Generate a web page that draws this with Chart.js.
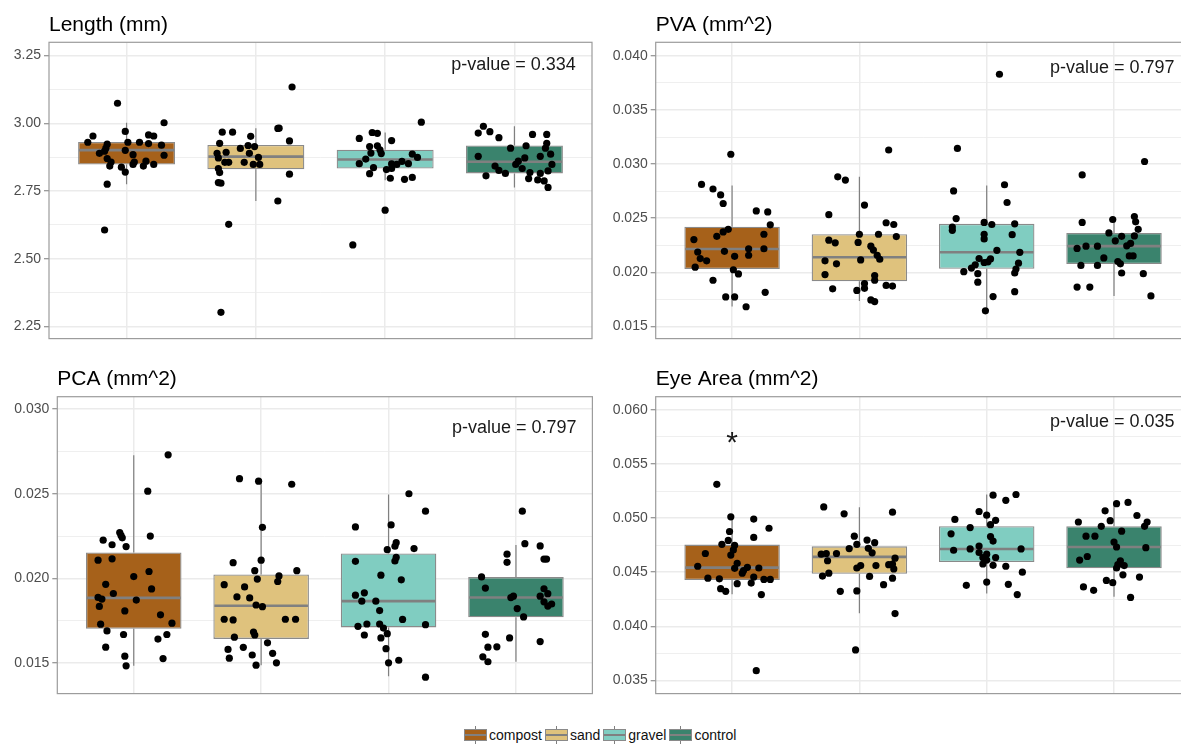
<!DOCTYPE html>
<html>
<head>
<meta charset="utf-8">
<script src="https://cdn.jsdelivr.net/npm/chart.js@4.4.1/dist/chart.umd.min.js"></script>
<style>
  body { margin: 0; background: #fff; }
  #wrap { position: relative; width: 1181px; height: 744px; overflow: hidden; background: #fff; }
  canvas { position: absolute; }
  #legend { position: absolute; left: 464px; top: 725px; height: 20px; display: flex; align-items: center;
            font: 14px 'Liberation Sans', Arial, sans-serif; color: #111; }
  .key { position: relative; width: 23px; height: 20px; margin-right: 2px; }
  .key::before { content: ''; position: absolute; left: 11px; top: 1px; bottom: 1px; width: 1px; background: #808080; }
  .key::after { content: ''; position: absolute; left: 0; right: 0; top: 4px; height: 12px; box-sizing: border-box;
                border: 1px solid #8a8a8a; background: linear-gradient(#808080, #808080) center / 100% 2px no-repeat, var(--c); }
  .lab { margin-right: 3px; }
</style>
</head>
<body>
<div id="wrap">
  <canvas id="c1" width="600" height="350" style="left:0;top:0"></canvas>
  <canvas id="c2" width="600" height="350" style="left:600px;top:0"></canvas>
  <canvas id="c3" width="600" height="345" style="left:0;top:360px"></canvas>
  <canvas id="c4" width="600" height="345" style="left:600px;top:360px"></canvas>
  <div id="legend"></div>
</div>
<script>
const categories = ['compost', 'sand', 'gravel', 'control'];
const colors = ['#A6611A', '#DFC27D', '#80CDC1', '#3A836D'];

// box stats per group: [lower whisker, q1, median, q3, upper whisker]
const lengthBox = [[2.775, 2.848, 2.901, 2.931, 3.002], [2.713, 2.830, 2.877, 2.920, 2.982],
                   [2.790, 2.833, 2.866, 2.902, 2.966], [2.763, 2.815, 2.858, 2.918, 2.989]];
const pvaBox = [[0.01685, 0.0203, 0.02215, 0.02421, 0.02803], [0.01736, 0.01918, 0.02139, 0.02352, 0.02882],
                [0.0165, 0.02033, 0.02185, 0.02448, 0.02803], [0.01782, 0.02076, 0.02242, 0.02364, 0.02494]];
const pcaBox = [[0.01484, 0.01703, 0.01885, 0.02153, 0.02728], [0.01488, 0.01643, 0.01839, 0.02023, 0.02574],
                [0.01422, 0.01711, 0.01866, 0.02147, 0.02496], [0.01508, 0.01771, 0.01887, 0.02008, 0.02197]];
const eyeBox = [[0.04297, 0.04427, 0.04542, 0.04755, 0.04991], [0.04121, 0.04485, 0.04642, 0.04739, 0.0510],
                [0.04303, 0.04594, 0.04715, 0.04924, 0.05218], [0.04273, 0.04536, 0.04733, 0.04924, 0.05145]];

// jittered observations: [jitter, value]
const lenCompost = [[-0.07,3.074],[0.29,3.002],[-0.01,2.970],[-0.26,2.953],[-0.30,2.930],[0.17,2.957],[0.21,2.953],[0.10,2.930],[0.01,2.930],[0.17,2.925],[0.27,2.919],[-0.15,2.923],[-0.16,2.908],[-0.21,2.889],[-0.17,2.897],[-0.01,2.900],[0.05,2.884],[0.29,2.882],[-0.15,2.870],[-0.12,2.857],[-0.13,2.842],[-0.04,2.838],[-0.01,2.820],[0.05,2.848],[0.06,2.857],[0.13,2.842],[0.15,2.860],[0.21,2.848],[-0.15,2.775],[-0.17,2.606]];
const lenSand = [[0.28,3.134],[-0.26,2.967],[-0.18,2.967],[-0.04,2.952],[0.18,2.982],[0.17,2.981],[0.26,2.935],[-0.28,2.926],[-0.12,2.907],[-0.06,2.918],[-0.01,2.914],[-0.30,2.889],[-0.23,2.893],[-0.05,2.889],[-0.29,2.872],[0.02,2.874],[-0.24,2.856],[-0.21,2.856],[-0.09,2.856],[-0.02,2.848],[0.03,2.848],[-0.29,2.833],[-0.28,2.818],[-0.29,2.781],[-0.27,2.779],[0.26,2.812],[0.17,2.713],[-0.21,2.627],[-0.27,2.302]];
const lenGravel = [[0.28,3.004],[-0.10,2.966],[-0.06,2.963],[-0.20,2.944],[0.05,2.936],[-0.12,2.914],[-0.06,2.917],[-0.04,2.902],[-0.11,2.890],[-0.03,2.888],[0.21,2.886],[0.25,2.874],[-0.15,2.868],[-0.20,2.851],[0.18,2.851],[0.13,2.859],[0.09,2.848],[0.05,2.850],[0.01,2.829],[0.05,2.833],[-0.09,2.836],[-0.12,2.814],[0.04,2.797],[0.15,2.793],[0.21,2.800],[0.00,2.679],[-0.25,2.551]];
const lenControl = [[-0.24,2.989],[-0.28,2.964],[-0.19,2.969],[-0.12,2.947],[0.14,2.959],[0.25,2.959],[0.25,2.926],[0.09,2.917],[-0.03,2.908],[0.24,2.908],[-0.28,2.878],[0.28,2.886],[0.20,2.878],[0.08,2.872],[0.03,2.860],[0.01,2.848],[0.29,2.848],[-0.15,2.842],[-0.12,2.826],[-0.07,2.815],[0.06,2.833],[0.12,2.818],[0.26,2.824],[-0.22,2.806],[0.20,2.815],[0.11,2.796],[0.18,2.791],[0.23,2.787],[0.26,2.763]];

const pvaCompost = [[-0.01,0.03091],[-0.24,0.02812],[-0.15,0.02770],[-0.09,0.02715],[-0.07,0.02636],[0.19,0.02567],[0.28,0.02558],[0.30,0.02439],[-0.03,0.02397],[-0.07,0.02373],[-0.12,0.02333],[0.25,0.02352],[-0.30,0.02303],[-0.27,0.02188],[-0.06,0.02194],[0.13,0.02218],[0.25,0.02218],[0.02,0.02148],[0.13,0.02158],[-0.25,0.02127],[-0.20,0.02106],[-0.29,0.02048],[0.01,0.02024],[0.05,0.01985],[-0.15,0.01927],[0.26,0.01815],[-0.05,0.01773],[0.02,0.01773],[0.11,0.01682]];
const pvaSand = [[0.23,0.03130],[-0.17,0.02882],[-0.11,0.02852],[-0.24,0.02533],[0.04,0.02621],[-0.24,0.02297],[-0.19,0.02273],[-0.01,0.02276],[0.00,0.02352],[0.15,0.02352],[0.21,0.02458],[0.09,0.02242],[0.11,0.02206],[0.14,0.02158],[0.16,0.02121],[-0.27,0.02106],[-0.18,0.02079],[0.01,0.02115],[-0.27,0.01979],[0.12,0.01970],[0.12,0.01927],[0.04,0.01897],[0.04,0.01852],[-0.02,0.01833],[-0.21,0.01848],[0.21,0.01879],[0.09,0.01745],[0.12,0.01730],[0.27,0.02442],[0.29,0.02330],[0.26,0.01873]];
const pvaGravel = [[0.10,0.03830],[-0.23,0.03145],[-0.26,0.02752],[0.14,0.02809],[0.16,0.02645],[-0.24,0.02497],[-0.27,0.02418],[-0.27,0.02388],[-0.02,0.02461],[0.04,0.02442],[0.22,0.02448],[-0.02,0.02352],[-0.02,0.02309],[0.20,0.02348],[0.08,0.02203],[0.26,0.02185],[-0.06,0.02127],[0.03,0.02124],[0.01,0.02097],[-0.02,0.02091],[-0.09,0.02070],[-0.12,0.02039],[0.25,0.02085],[0.23,0.02030],[0.22,0.01994],[-0.18,0.02006],[-0.07,0.01988],[-0.07,0.01909],[0.22,0.01821],[0.05,0.01776],[-0.01,0.01645]];
const pvaControl = [[0.24,0.03024],[-0.25,0.02900],[-0.25,0.02461],[-0.01,0.02488],[0.16,0.02515],[0.17,0.02467],[0.19,0.02397],[-0.04,0.02364],[0.06,0.02333],[0.16,0.02336],[0.01,0.02291],[0.13,0.02267],[0.10,0.02245],[-0.29,0.02221],[-0.22,0.02242],[-0.13,0.02242],[-0.08,0.02133],[0.12,0.02152],[0.15,0.02152],[0.03,0.02100],[0.05,0.02079],[-0.26,0.02064],[-0.13,0.02064],[0.06,0.01994],[0.23,0.01988],[-0.29,0.01864],[-0.19,0.01864],[0.29,0.01782]];

const pcaCompost = [[0.27,0.02730],[0.11,0.02515],[0.13,0.02250],[-0.11,0.02271],[-0.10,0.02254],[-0.09,0.02240],[-0.24,0.02226],[-0.17,0.02199],[-0.06,0.02188],[-0.28,0.02108],[-0.17,0.02116],[0.12,0.02041],[0.00,0.02011],[-0.22,0.01965],[0.14,0.01938],[-0.16,0.01911],[-0.28,0.01888],[-0.25,0.01878],[0.02,0.01872],[-0.27,0.01835],[-0.07,0.01808],[0.21,0.01785],[-0.26,0.01730],[0.30,0.01736],[-0.21,0.01690],[-0.08,0.01669],[0.26,0.01669],[0.19,0.01642],[-0.22,0.01594],[-0.07,0.01541],[0.23,0.01527],[-0.06,0.01484]];
const pcaSand = [[-0.17,0.02589],[-0.02,0.02574],[0.24,0.02556],[0.01,0.02302],[-0.22,0.02093],[0.00,0.02108],[-0.05,0.02046],[0.28,0.02046],[0.14,0.02015],[-0.03,0.01996],[0.13,0.01982],[-0.29,0.01963],[-0.13,0.01950],[-0.19,0.01891],[-0.09,0.01885],[-0.04,0.01843],[0.01,0.01833],[-0.29,0.01759],[-0.22,0.01755],[0.19,0.01759],[0.27,0.01759],[-0.06,0.01683],[-0.05,0.01666],[-0.21,0.01653],[0.05,0.01620],[-0.26,0.01581],[-0.14,0.01593],[0.09,0.01558],[-0.25,0.01529],[-0.07,0.01548],[0.12,0.01502],[-0.04,0.01488]];
const pcaGravel = [[0.16,0.02500],[0.29,0.02397],[-0.26,0.02304],[0.02,0.02316],[0.06,0.02211],[0.05,0.02190],[-0.01,0.02170],[0.20,0.02176],[0.06,0.02124],[0.05,0.02103],[-0.26,0.02101],[-0.06,0.02019],[0.10,0.01992],[-0.26,0.01901],[-0.19,0.01915],[-0.21,0.01866],[-0.10,0.01866],[-0.07,0.01810],[0.11,0.01758],[-0.24,0.01717],[-0.17,0.01731],[-0.07,0.01731],[-0.04,0.01707],[0.29,0.01727],[-0.01,0.01674],[-0.19,0.01666],[-0.06,0.01649],[-0.02,0.01585],[0.08,0.01517],[0.00,0.01502],[0.29,0.01417]];
const pcaControl = [[0.05,0.02397],[0.07,0.02205],[0.19,0.02192],[-0.07,0.02143],[-0.07,0.02095],[0.22,0.02114],[0.24,0.02114],[-0.27,0.02009],[-0.24,0.01943],[0.22,0.01939],[0.25,0.01910],[0.19,0.01895],[-0.02,0.01895],[-0.04,0.01887],[0.22,0.01862],[0.25,0.01837],[0.28,0.01849],[0.01,0.01822],[0.06,0.01773],[-0.24,0.01670],[-0.05,0.01649],[0.19,0.01627],[-0.22,0.01594],[-0.15,0.01596],[-0.26,0.01537],[-0.22,0.01508]];

const eyeCompost = [[-0.12,0.05312],[-0.01,0.05012],[0.17,0.04991],[0.29,0.04906],[-0.02,0.04876],[0.17,0.04821],[-0.03,0.04794],[-0.08,0.04758],[0.02,0.04748],[0.01,0.04706],[-0.21,0.04673],[-0.01,0.04658],[-0.27,0.04555],[0.12,0.04545],[0.04,0.04582],[0.02,0.04536],[0.09,0.04515],[0.21,0.04539],[0.08,0.04491],[0.17,0.04455],[-0.19,0.04445],[-0.10,0.04439],[0.25,0.04433],[0.30,0.04433],[0.15,0.04400],[0.04,0.04394],[-0.09,0.04348],[-0.05,0.04324],[0.23,0.04294],[0.19,0.03591]];
const eyeSand = [[-0.28,0.05103],[-0.12,0.05039],[0.26,0.05055],[-0.04,0.04833],[0.06,0.04797],[0.12,0.04773],[-0.02,0.04758],[-0.08,0.04718],[0.07,0.04721],[-0.26,0.04673],[-0.18,0.04673],[0.10,0.04679],[-0.30,0.04667],[-0.25,0.04606],[0.01,0.04561],[-0.02,0.04539],[0.13,0.04561],[0.23,0.04570],[0.28,0.04630],[0.26,0.04576],[0.27,0.04530],[-0.24,0.04491],[-0.29,0.04464],[0.08,0.04461],[0.26,0.04445],[0.19,0.04385],[-0.15,0.04324],[-0.02,0.04327],[0.28,0.04118],[-0.03,0.03782]];
const eyeGravel = [[0.05,0.05212],[0.23,0.05218],[0.15,0.05164],[-0.06,0.05061],[0.00,0.05027],[0.07,0.04979],[-0.25,0.04988],[0.03,0.04939],[-0.13,0.04912],[-0.28,0.04855],[0.03,0.04830],[0.05,0.04788],[-0.06,0.04742],[-0.26,0.04703],[-0.13,0.04715],[0.27,0.04715],[-0.06,0.04682],[0.00,0.04667],[-0.03,0.04636],[0.07,0.04636],[0.00,0.04612],[-0.03,0.04576],[0.05,0.04564],[0.15,0.04555],[0.28,0.04500],[0.00,0.04409],[-0.16,0.04379],[0.17,0.04388],[0.24,0.04294]];
const eyeControl = [[0.02,0.05133],[0.11,0.05145],[-0.07,0.05067],[0.18,0.05024],[-0.03,0.04976],[-0.28,0.04964],[0.26,0.04964],[-0.10,0.04924],[0.24,0.04924],[0.06,0.04879],[-0.22,0.04833],[-0.15,0.04833],[0.00,0.04779],[0.02,0.04733],[0.25,0.04727],[-0.21,0.04645],[-0.27,0.04612],[0.05,0.04606],[0.03,0.04570],[0.08,0.04561],[0.02,0.04539],[0.07,0.04476],[0.20,0.04455],[-0.06,0.04424],[-0.01,0.04403],[-0.24,0.04364],[-0.16,0.04333],[0.13,0.04267]];

// y tick labels (major) per panel
const lengthTicks = [2.25, 2.50, 2.75, 3.00, 3.25];
const pvaTicks = [0.015, 0.020, 0.025, 0.030, 0.035, 0.040];
const pcaTicks = [0.015, 0.020, 0.025, 0.030];
const eyeTicks = [0.035, 0.040, 0.045, 0.050, 0.055, 0.060];

const FONT = "'Liberation Sans', Arial, Helvetica, sans-serif";
Chart.defaults.font.family = FONT;

const boxExtras = {
    id: 'boxExtras',
    beforeDatasetsDraw(chart, args, o) {
        const ctx = chart.ctx, y = chart.scales.y;
        const meta = chart.getDatasetMeta(1);
        ctx.save();
        ctx.strokeStyle = '#808080';
        ctx.lineWidth = 1.2;
        ctx.beginPath();
        o.box.forEach((b, i) => {
            const x = meta.data[i].x;
            ctx.moveTo(x, y.getPixelForValue(b[0]));
            ctx.lineTo(x, y.getPixelForValue(b[1]));
            ctx.moveTo(x, y.getPixelForValue(b[3]));
            ctx.lineTo(x, y.getPixelForValue(b[4]));
        });
        ctx.stroke();
        ctx.restore();
    },
    afterDatasetDraw(chart, args, o) {
        if (args.index !== 1) return;
        const ctx = chart.ctx, y = chart.scales.y;
        const meta = chart.getDatasetMeta(1);
        ctx.save();
        ctx.strokeStyle = '#808080';
        ctx.lineWidth = 2.6;
        ctx.beginPath();
        o.box.forEach((b, i) => {
            const el = meta.data[i];
            const py = y.getPixelForValue(b[2]);
            ctx.moveTo(el.x - el.width / 2 + 1, py);
            ctx.lineTo(el.x + el.width / 2 - 1, py);
        });
        ctx.stroke();
        ctx.restore();
    },
    afterDraw(chart, args, o) {
        const ctx = chart.ctx, ca = chart.chartArea;
        const x = chart.scales.x, y = chart.scales.y;
        ctx.save();
        ctx.strokeStyle = '#9c9c9c';
        ctx.lineWidth = 1.2;
        ctx.strokeRect(ca.left, ca.top, ca.right - ca.left, ca.bottom - ca.top);

        ctx.fillStyle = '#000';
        ctx.font = '21px ' + FONT;
        ctx.textAlign = 'left';
        ctx.textBaseline = 'alphabetic';
        ctx.fillText(o.title, ca.left, ca.top - 11.5);

        ctx.fillStyle = '#1a1a1a';
        ctx.font = '18px ' + FONT;
        ctx.textAlign = 'right';
        ctx.textBaseline = 'middle';
        ctx.fillText(o.pText, x.getPixelForValue(3.475), y.getPixelForValue(o.pY));

        if (o.star) {
            ctx.font = '30px ' + FONT;
            ctx.textAlign = 'center';
            ctx.textBaseline = 'alphabetic';
            const m = ctx.measureText('*');
            const cy = y.getPixelForValue(o.star.y);
            ctx.fillText('*', x.getPixelForValue(o.star.x), cy + (m.actualBoundingBoxAscent - m.actualBoundingBoxDescent) / 2);
        }
        ctx.restore();
    }
};

function makePanel(id, p) {
    const majors = p.ticks;
    const half = (majors[1] - majors[0]) / 2;
    const allTicks = [];
    for (let k = -1; k <= majors.length * 2; k++) {
        const v = +(majors[0] + k * half).toFixed(6);
        if (v >= p.min && v <= p.max) allTicks.push(v);
    }
    const isMajor = v => majors.some(m => Math.abs(m - v) < half * 0.01);

    const points = p.groups.flatMap((g, i) => g.map(d => ({ x: i + d[0], y: d[1] })));
    const boxes = p.box.map((b, i) => ({ x: i, y: [b[1], b[3]] }));

    new Chart(document.getElementById(id), {
        type: 'bar',
        data: {
            datasets: [{
                type: 'scatter',
                data: points,
                pointRadius: 3.6,
                pointBackgroundColor: '#000',
                pointBorderWidth: 0,
                order: 0
            }, {
                type: 'bar',
                data: boxes,
                backgroundColor: colors,
                borderColor: '#8a8a8a',
                borderWidth: 1.3,
                borderSkipped: false,
                barPercentage: 0.75,
                categoryPercentage: 1,
                order: 1
            }]
        },
        options: {
            responsive: false,
            animation: false,
            events: [],
            layout: { padding: p.padding },
            plugins: {
                legend: { display: false },
                tooltip: { enabled: false },
                boxExtras: { box: p.box, title: p.title, pText: p.pText, pY: p.pY, star: p.star }
            },
            scales: {
                x: {
                    type: 'linear',
                    min: -0.6, max: 3.6,
                    offset: false,
                    afterBuildTicks: s => { s.ticks = categories.map((c, i) => ({ value: i })); },
                    afterFit: s => { s.height = 0; },
                    ticks: { display: false },
                    grid: { color: '#EBEBEB', lineWidth: 1.5, drawTicks: false, offset: false },
                    border: { display: false }
                },
                y: {
                    type: 'linear',
                    min: p.min, max: p.max,
                    beginAtZero: false,
                    afterBuildTicks: s => { s.ticks = allTicks.map(v => ({ value: v })); },
                    afterFit: s => { s.width = p.yWidth; },
                    ticks: {
                        autoSkip: false,
                        padding: 3,
                        color: '#4D4D4D',
                        font: { size: 14 },
                        callback: v => isMajor(v) ? v.toFixed(p.decimals) : ''
                    },
                    grid: {
                        color: '#EBEBEB',
                        lineWidth: c => isMajor(c.tick.value) ? 1.5 : 0.8,
                        tickColor: c => isMajor(c.tick.value) ? '#7a7a7a' : 'rgba(0,0,0,0)',
                        tickWidth: 1,
                        tickLength: 5
                    },
                    border: { display: false }
                }
            }
        },
        plugins: [boxExtras]
    });
}

makePanel('c1', {
    title: 'Length (mm)', pText: 'p-value = 0.334', pY: 3.216,
    groups: [lenCompost, lenSand, lenGravel, lenControl], box: lengthBox,
    ticks: lengthTicks, decimals: 2, min: 2.205, max: 3.299,
    yWidth: 49, padding: { top: 42.3, right: 8, bottom: 6.7, left: 0 }
});
makePanel('c2', {
    title: 'PVA (mm^2)', pText: 'p-value = 0.797', pY: 0.03888,
    groups: [pvaCompost, pvaSand, pvaGravel, pvaControl], box: pvaBox,
    ticks: pvaTicks, decimals: 3, min: 0.01388, max: 0.04125,
    yWidth: 55.7, padding: { top: 42.3, right: 9.6, bottom: 6.7, left: 0 }
});
makePanel('c3', {
    title: 'PCA (mm^2)', pText: 'p-value = 0.797', pY: 0.0289,
    groups: [pcaCompost, pcaSand, pcaGravel, pcaControl], box: pcaBox,
    ticks: pcaTicks, decimals: 3, min: 0.0132, max: 0.03073,
    yWidth: 57.3, padding: { top: 36.7, right: 7.6, bottom: 6.7, left: 0 }
});
makePanel('c4', {
    title: 'Eye Area (mm^2)', pText: 'p-value = 0.035', pY: 0.05888,
    star: { x: 0, y: 0.0574 },
    groups: [eyeCompost, eyeSand, eyeGravel, eyeControl], box: eyeBox,
    ticks: eyeTicks, decimals: 3, min: 0.03379, max: 0.06121,
    yWidth: 55.7, padding: { top: 36.7, right: 9.6, bottom: 6.7, left: 0 }
});

// shared legend
const legend = document.getElementById('legend');
categories.forEach((c, i) => {
    const key = document.createElement('span');
    key.className = 'key';
    key.style.setProperty('--c', colors[i]);
    const lab = document.createElement('span');
    lab.className = 'lab';
    lab.textContent = c;
    legend.appendChild(key);
    legend.appendChild(lab);
});
</script>
</body>
</html>
